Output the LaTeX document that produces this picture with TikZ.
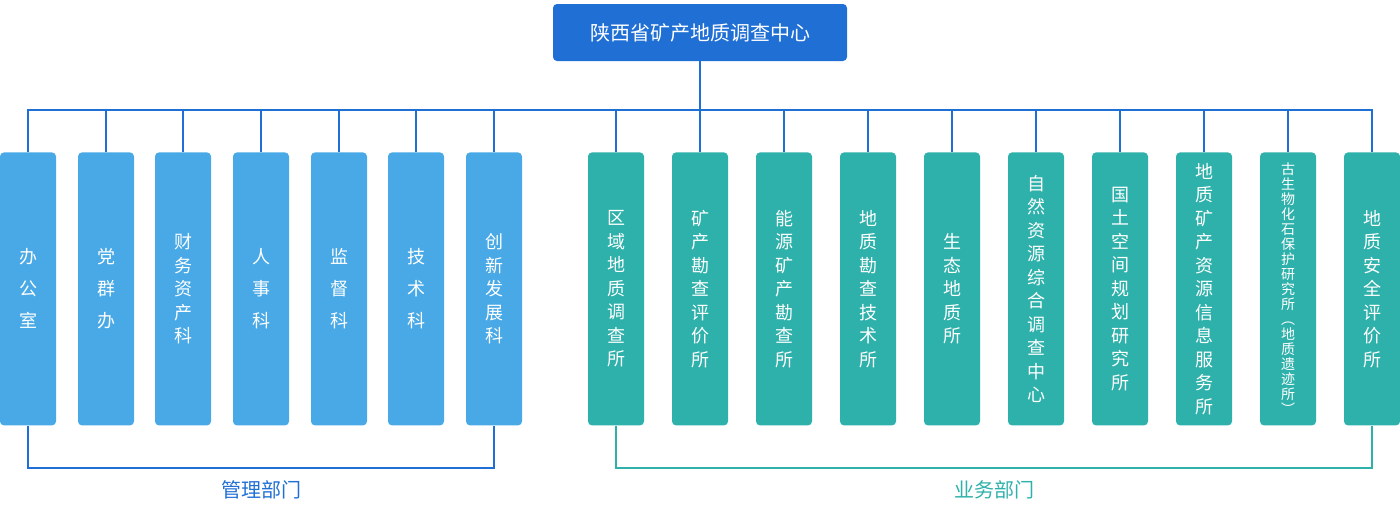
\documentclass[tikz,border=0pt]{standalone}
\usepackage{fontspec}
\newfontfamily\cjk{Noto Sans CJK SC}

\definecolor{leadblue}{HTML}{1F6FD5}
\definecolor{mgmtblue}{HTML}{48A9E6}
\definecolor{bizteal}{HTML}{2EB1AA}

\tikzset{
  leadbox/.style={fill=leadblue, text=white, rounded corners=2pt,
    minimum width=147pt, minimum height=28.5pt, inner sep=0pt,
    font=\cjk\fontsize{10}{12}\selectfont},
  unitbox/.style={text=white, rounded corners=2pt, minimum width=28pt,
    minimum height=136.5pt, inner sep=0pt, align=center, anchor=north},
  mgmtbox/.style={unitbox, fill=mgmtblue},
  bizbox/.style={unitbox, fill=bizteal},
  wideskip/.style={font=\cjk\fontsize{9}{16}\selectfont},
  narrowskip/.style={font=\cjk\fontsize{9}{11.75}\selectfont},
  tinyskip/.style={font=\cjk\fontsize{7}{7.5}\selectfont},
  blueline/.style={draw=leadblue, line width=0.7pt},
  tealline/.style={draw=bizteal, line width=0.7pt},
  grouplabel/.style={font=\cjk\fontsize{10}{12}\selectfont, inner sep=0pt},
}

\begin{document}
\begin{tikzpicture}[x=0.5pt, y=-0.5pt]

    \useasboundingbox (0,0) rectangle (1400,516);

    % 1. Head office
    \node[leadbox] (lead) at (700,32.5) {陕西省矿产地质调查中心};
    \coordinate (bus) at (700,110);

    % 2. Management offices
    \foreach \cx/\nm/\skip/\txt in {
        28/m1/wideskip/{办\\公\\室},
        106/m2/wideskip/{党\\群\\办},
        183/m3/narrowskip/{财\\务\\资\\产\\科},
        261/m4/wideskip/{人\\事\\科},
        339/m5/wideskip/{监\\督\\科},
        416/m6/wideskip/{技\\术\\科},
        494/m7/narrowskip/{创\\新\\发\\展\\科}%
    } {
        \node[mgmtbox, \skip] (\nm) at (\cx,152) {\txt};
    }

    % 3. Business institutes
    \foreach \cx/\nm/\skip/\txt in {
        616/b1/narrowskip/{区\\域\\地\\质\\调\\查\\所},
        700/b2/narrowskip/{矿\\产\\勘\\查\\评\\价\\所},
        784/b3/narrowskip/{能\\源\\矿\\产\\勘\\查\\所},
        868/b4/narrowskip/{地\\质\\勘\\查\\技\\术\\所},
        952/b5/narrowskip/{生\\态\\地\\质\\所},
        1036/b6/narrowskip/{自\\然\\资\\源\\综\\合\\调\\查\\中\\心},
        1120/b7/narrowskip/{国\\土\\空\\间\\规\\划\\研\\究\\所},
        1204/b8/narrowskip/{地\\质\\矿\\产\\资\\源\\信\\息\\服\\务\\所},
        1288/b9/tinyskip/{古\\生\\物\\化\\石\\保\\护\\研\\究\\所\\︵\\地\\质\\遗\\迹\\所\\︶},
        1372/b10/narrowskip/{地\\质\\安\\全\\评\\价\\所}%
    } {
        \node[bizbox, \skip] (\nm) at (\cx,152) {\txt};
    }

    % 4. Bus from the head office to every unit
    \draw[blueline] (lead.south) -- (bus);
    \foreach \nm in {m1,m2,m3,m4,m5,m6,m7,b1,b2,b3,b4,b5,b6,b7,b8,b9,b10} {
        \draw[blueline] (\nm.north) |- (bus);
    }

    % 5. Group brackets with their labels
    \draw[blueline] (m1.south) -- ++(0,42) -| (m7.south);
    \draw[tealline] (b1.south) -- ++(0,42) -| (b10.south);
    \node[grouplabel, text=leadblue] (mgmt) at (261,490) {管理部门};
    \node[grouplabel, text=bizteal] (biz) at (994,490) {业务部门};

\end{tikzpicture}
\end{document}
